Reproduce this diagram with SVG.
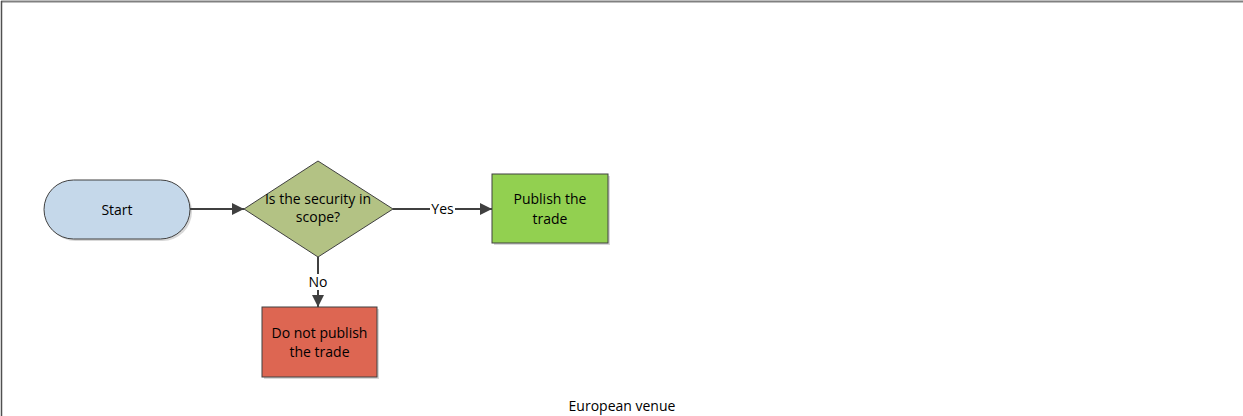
<svg xmlns="http://www.w3.org/2000/svg" width="1243" height="416" viewBox="0 0 1243 416">
<style>
.t{font-family:"Open Sans","Liberation Sans",sans-serif;font-size:14px;fill:#000;text-anchor:middle}
.s{stroke:#404040;stroke-width:1}
.sh{fill:#d8d8d8}
.c{stroke:#404040;stroke-width:2;fill:none}
</style>
<defs>
<marker id="a" viewBox="0 0 12 12" refX="12" refY="6" markerWidth="12" markerHeight="12" markerUnits="userSpaceOnUse" orient="auto">
<path d="M0,0 L12,6 L0,12 z" fill="#404040"/>
</marker>
</defs>
<rect width="1243" height="416" fill="#fff"/>
<g id="frame">
<line x1="1" y1="1.5" x2="1243" y2="1.5" stroke="#808080" stroke-width="2"/>
<line x1="1.5" y1="1" x2="1.5" y2="416" stroke="#505050" stroke-width="1.5"/>
</g>
<g id="start">
<rect x="46" y="182" width="146" height="59" rx="29.5" class="sh"/>
<rect x="44" y="180" width="146" height="59" rx="29.5" fill="#c5d8ea" class="s"/>
<text x="117" y="214.5" class="t">Start</text>
</g>
<g id="decision">
<polygon points="244,209 318,161 393,209 318,257" fill="#b3c284" class="s"/>
<text x="318" y="203.5" class="t">Is the security in</text>
<text x="318" y="222" class="t">scope?</text>
</g>
<g id="publish">
<rect x="494" y="176" width="116" height="69" class="sh"/>
<rect x="492" y="174" width="116" height="69" fill="#92d050" class="s"/>
<text x="550" y="204" class="t">Publish the</text>
<text x="550" y="224" class="t">trade</text>
</g>
<g id="nopublish">
<rect x="264" y="309" width="115" height="70" class="sh"/>
<rect x="262" y="307" width="115" height="70" fill="#dd6652" class="s"/>
<text x="319.5" y="337.5" class="t">Do not publish</text>
<text x="319.5" y="357" class="t">the trade</text>
</g>
<g id="connectors">
<line x1="190" y1="209" x2="244" y2="209" class="c" marker-end="url(#a)"/>
<line x1="393" y1="209" x2="492" y2="209" class="c" marker-end="url(#a)"/>
<line x1="318" y1="257" x2="318" y2="307" class="c" marker-end="url(#a)"/>
<rect x="430" y="201" width="25" height="16" fill="#fff"/>
<text x="442.5" y="214" class="t">Yes</text>
<rect x="307" y="274" width="22" height="16" fill="#fff"/>
<text x="318" y="287" class="t">No</text>
</g>
<g id="lane-label">
<text x="622" y="411" class="t">European venue</text>
</g>
</svg>
